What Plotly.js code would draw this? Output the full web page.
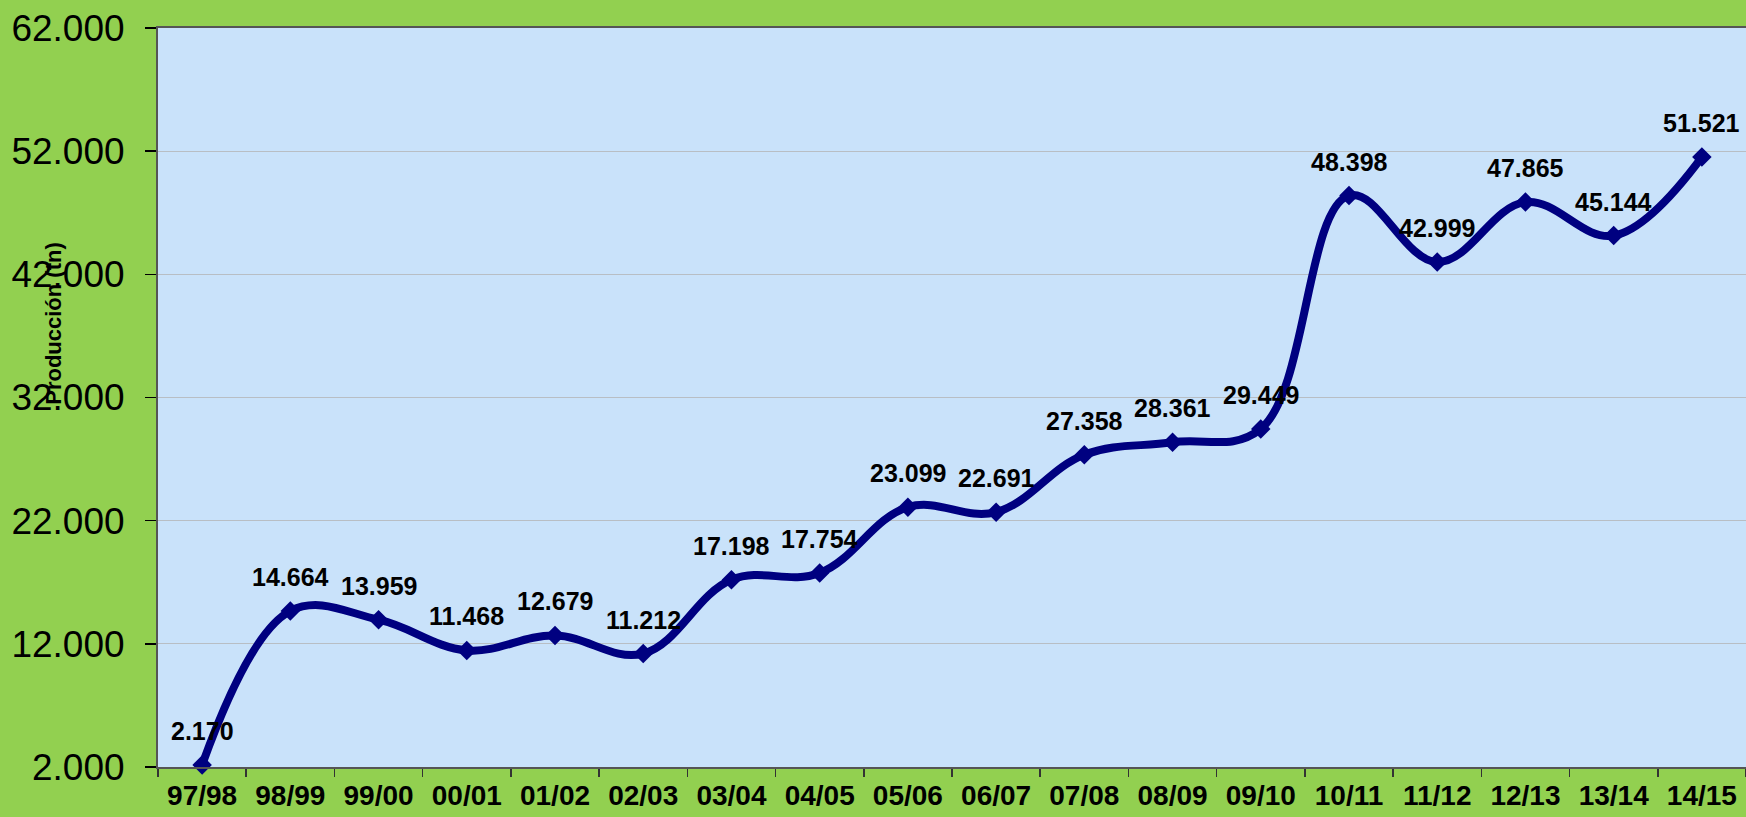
<!DOCTYPE html>
<html>
<head>
<meta charset="utf-8">
<script src="https://cdn.plot.ly/plotly-3.0.1.min.js"></script>
<style>html,body{margin:0;padding:0;background:#92D050;}#chart{width:1746px;height:817px;}</style>
</head>
<body>
<div id="chart"></div>
<script>
const campaigns = ["97/98","98/99","99/00","00/01","01/02","02/03","03/04","04/05","05/06","06/07","07/08","08/09","09/10","10/11","11/12","12/13","13/14","14/15"];
const production = [2170,14664,13959,11468,12679,11212,17198,17754,23099,22691,27358,28361,29449,48398,42999,47865,45144,51521];
const yTickValues = [2000,12000,22000,32000,42000,52000,62000];

function fmt(v){ return String(v).replace(/\B(?=(\d{3})+(?!\d))/g, "."); }

const trace = {
  x: campaigns,
  y: production,
  type: "scatter",
  mode: "lines+markers",
  line: {color: "#000080", width: 8, shape: "spline", smoothing: 1.1},
  marker: {symbol: "diamond", size: 15, color: "#000080"},
  cliponaxis: false,
  hoverinfo: "skip"
};

const annotations = campaigns.map((c, i) => ({
  x: c, y: production[i], xref: "x", yref: "y",
  text: fmt(production[i]), showarrow: false,
  yshift: 34, yanchor: "middle", xanchor: "center",
  font: {family: "Liberation Sans, Arial, sans-serif", size: 25, color: "#000000", weight: "bold"}
}));
annotations.push({
  xref: "paper", yref: "paper", x: -0.066, y: 0.6,
  xanchor: "center", yanchor: "middle",
  text: "<b>Producción (tn)</b>", textangle: -90, showarrow: false,
  font: {family: "Liberation Sans, Arial, sans-serif", size: 22, color: "#000000"}
});

const layout = {
  width: 1746, height: 817,
  paper_bgcolor: "#92D050",
  plot_bgcolor: "#C9E2FA",
  margin: {l: 158, r: 0, t: 28, b: 50},
  separators: ",.",
  showlegend: false,
  xaxis: {
    type: "category",
    range: [-0.5, 17.5],
    tickson: "boundaries",
    ticks: "outside", ticklen: 8, tickcolor: "#333333", tickwidth: 1.5,
    showline: true, linecolor: "#555555", linewidth: 2, mirror: true,
    showgrid: false, zeroline: false,
    tickfont: {family: "Liberation Sans, Arial, sans-serif", size: 28, color: "#000000", weight: "bold"},
    ticklabelstandoff: 2
  },
  yaxis: {
    range: [2000, 62000],
    tickvals: yTickValues,
    ticktext: yTickValues.map(fmt),
    ticks: "outside", ticklen: 11, tickcolor: "#000000", tickwidth: 1.5,
    showline: true, linecolor: "#555555", linewidth: 2,
    showgrid: true, gridcolor: "#B8BEC4", gridwidth: 1,
    zeroline: false,
    tickfont: {family: "Liberation Sans, Arial, sans-serif", size: 37, color: "#000000"},
    ticklabelstandoff: 13
  },
  annotations: annotations
};

Plotly.newPlot("chart", [trace], layout, {displayModeBar: false, staticPlot: true});
</script>
</body>
</html>
